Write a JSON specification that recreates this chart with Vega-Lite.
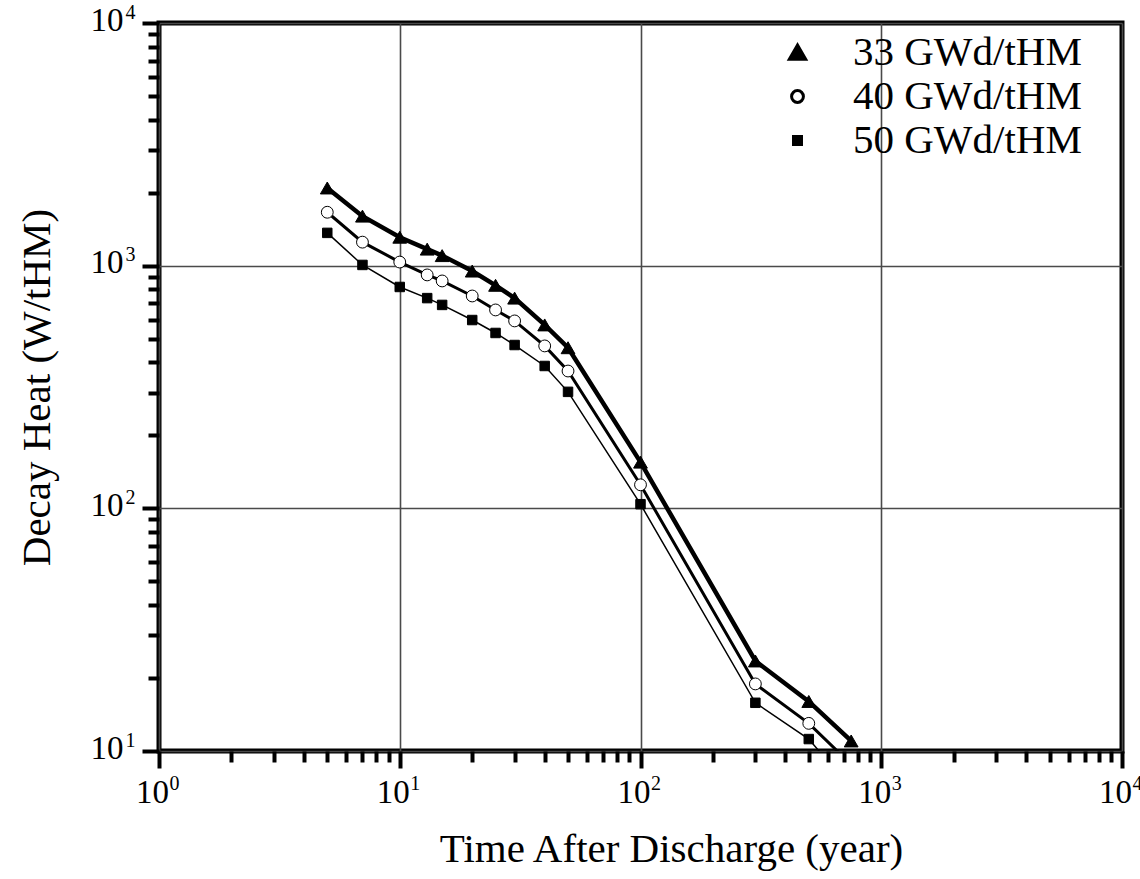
{
  "$schema": "https://vega.github.io/schema/vega-lite/v6.json",
  "autosize": {"type": "none"},
  "padding": {"left": 159, "top": 23, "right": 18, "bottom": 128},
  "width": 963,
  "height": 728,
  "background": "white",
  "config": {
    "view": {"stroke": "black", "strokeWidth": 5},
    "font": "Liberation Serif, Times New Roman, Tinos, DejaVu Serif, serif",
    "legend": {
      "orient": "none", "legendX": 618, "legendY": 9,
      "title": null,
      "labelFont": "Liberation Serif, Times New Roman, Tinos, DejaVu Serif, serif", "labelFontSize": 41, "labelColor": "black",
      "labelLimit": 500, "labelOffset": 35, "rowPadding": 2, "padding": 0
    }
  },
  "data": {
    "values": [
      {"series": "33 GWd/tHM", "t": 5, "heat": 2090},
      {"series": "33 GWd/tHM", "t": 7, "heat": 1600},
      {"series": "33 GWd/tHM", "t": 10, "heat": 1310},
      {"series": "33 GWd/tHM", "t": 13, "heat": 1170},
      {"series": "33 GWd/tHM", "t": 15, "heat": 1100},
      {"series": "33 GWd/tHM", "t": 20, "heat": 950},
      {"series": "33 GWd/tHM", "t": 25, "heat": 830},
      {"series": "33 GWd/tHM", "t": 30, "heat": 735},
      {"series": "33 GWd/tHM", "t": 40, "heat": 570},
      {"series": "33 GWd/tHM", "t": 50, "heat": 459},
      {"series": "33 GWd/tHM", "t": 100, "heat": 155},
      {"series": "33 GWd/tHM", "t": 300, "heat": 23.5},
      {"series": "33 GWd/tHM", "t": 500, "heat": 16},
      {"series": "33 GWd/tHM", "t": 750, "heat": 11.0},
      {"series": "40 GWd/tHM", "t": 5, "heat": 1660},
      {"series": "40 GWd/tHM", "t": 7, "heat": 1250},
      {"series": "40 GWd/tHM", "t": 10, "heat": 1035},
      {"series": "40 GWd/tHM", "t": 13, "heat": 916},
      {"series": "40 GWd/tHM", "t": 15, "heat": 865},
      {"series": "40 GWd/tHM", "t": 20, "heat": 750},
      {"series": "40 GWd/tHM", "t": 25, "heat": 657},
      {"series": "40 GWd/tHM", "t": 30, "heat": 592},
      {"series": "40 GWd/tHM", "t": 40, "heat": 467},
      {"series": "40 GWd/tHM", "t": 50, "heat": 368},
      {"series": "40 GWd/tHM", "t": 100, "heat": 125},
      {"series": "40 GWd/tHM", "t": 300, "heat": 18.9},
      {"series": "40 GWd/tHM", "t": 500, "heat": 13.0},
      {"series": "40 GWd/tHM", "t": 750, "heat": 8.8},
      {"series": "50 GWd/tHM", "t": 5, "heat": 1365},
      {"series": "50 GWd/tHM", "t": 7, "heat": 1007},
      {"series": "50 GWd/tHM", "t": 10, "heat": 817},
      {"series": "50 GWd/tHM", "t": 13, "heat": 735},
      {"series": "50 GWd/tHM", "t": 15, "heat": 689},
      {"series": "50 GWd/tHM", "t": 20, "heat": 597},
      {"series": "50 GWd/tHM", "t": 25, "heat": 528},
      {"series": "50 GWd/tHM", "t": 30, "heat": 471},
      {"series": "50 GWd/tHM", "t": 40, "heat": 386},
      {"series": "50 GWd/tHM", "t": 50, "heat": 302},
      {"series": "50 GWd/tHM", "t": 100, "heat": 104},
      {"series": "50 GWd/tHM", "t": 300, "heat": 15.8},
      {"series": "50 GWd/tHM", "t": 500, "heat": 11.2},
      {"series": "50 GWd/tHM", "t": 750, "heat": 7.0}
    ]
  },
  "resolve": {"axis": {"x": "independent", "y": "independent"}},
  "layer": [
    {
      "mark": {"type": "line", "color": "black", "clip": true},
      "encoding": {
        "x": {
          "field": "t", "type": "quantitative",
          "scale": {"type": "log", "domain": [1, 10000], "nice": false},
          "axis": {
            "orient": "bottom",
            "values": [1,2,3,4,5,6,7,8,9,10,20,30,40,50,60,70,80,90,100,200,300,400,500,600,700,800,900,1000,2000,3000,4000,5000,6000,7000,8000,9000,10000],
            "labelExpr": "indexof([1,10,100,1000,10000], datum.value) >= 0 ? '10' : ''",
            "tickSize": {"condition": {"test": "indexof([1,10,100,1000,10000], datum.value) >= 0", "value": 17}, "value": 11},
            "tickWidth": 4, "tickColor": "black",
            "grid": true, "gridColor": "#4a4a4a", "gridWidth": 1.6,
            "gridOpacity": {"condition": {"test": "indexof([1,10,100,1000,10000], datum.value) >= 0", "value": 1}, "value": 0},
            "domain": false,
            "labelFont": "Liberation Serif, Times New Roman, Tinos, DejaVu Serif, serif", "labelFontSize": 33, "labelColor": "black",
            "labelPadding": 8, "labelFlush": false, "labelOverlap": false, "labelOffset": -7,
            "title": "Time After Discharge (year)",
            "titleFont": "Liberation Serif, Times New Roman, Tinos, DejaVu Serif, serif", "titleFontSize": 41, "titleFontWeight": "normal",
            "titleColor": "black", "titlePadding": 20, "titleX": 512
          }
        },
        "y": {
          "field": "heat", "type": "quantitative",
          "scale": {"type": "log", "domain": [10, 10000], "nice": false},
          "axis": {
            "orient": "left",
            "values": [10,20,30,40,50,60,70,80,90,100,200,300,400,500,600,700,800,900,1000,2000,3000,4000,5000,6000,7000,8000,9000,10000],
            "labelExpr": "indexof([10,100,1000,10000], datum.value) >= 0 ? '10' : ''",
            "tickSize": {"condition": {"test": "indexof([10,100,1000,10000], datum.value) >= 0", "value": 17}, "value": 11},
            "tickWidth": 4, "tickColor": "black",
            "grid": true, "gridColor": "#4a4a4a", "gridWidth": 1.6,
            "gridOpacity": {"condition": {"test": "indexof([10,100,1000,10000], datum.value) >= 0", "value": 1}, "value": 0},
            "domain": false,
            "labelFont": "Liberation Serif, Times New Roman, Tinos, DejaVu Serif, serif", "labelFontSize": 33, "labelColor": "black",
            "labelPadding": 19, "labelOverlap": false, "labelFlush": false, "labelOffset": -3,
            "title": "Decay Heat (W/tHM)",
            "titleFont": "Liberation Serif, Times New Roman, Tinos, DejaVu Serif, serif", "titleFontSize": 41, "titleFontWeight": "normal",
            "titleColor": "black", "titlePadding": 32
          }
        },
        "detail": {"field": "series"},
        "strokeWidth": {
          "field": "series", "type": "nominal",
          "scale": {"domain": ["33 GWd/tHM", "40 GWd/tHM", "50 GWd/tHM"], "range": [4.5, 1.5, 1.5]},
          "legend": {
            "encode": {
              "symbols": {
                "stroke": {"value": "black"},
                "opacity": {"value": 1}
              }
            }
          }
        }
      }
    },
    {
      "mark": {"type": "point", "filled": true, "stroke": "black", "strokeWidth": 1, "opacity": 1, "clip": true},
      "encoding": {
        "x": {
          "field": "t", "type": "quantitative",
          "axis": {
            "orient": "bottom",
            "values": [1, 10, 100, 1000, 10000],
            "labelExpr": "'' + round(log(datum.value) / LN10)",
            "ticks": false, "tickSize": 0, "grid": false, "domain": false,
            "labelFont": "Liberation Serif, Times New Roman, Tinos, DejaVu Serif, serif", "labelFontSize": 20, "labelColor": "black",
            "labelAlign": "left", "labelBaseline": "top", "labelOffset": 10, "labelPadding": 22,
            "labelFlush": false, "labelOverlap": false,
            "title": null
          }
        },
        "y": {
          "field": "heat", "type": "quantitative",
          "axis": {
            "orient": "left",
            "values": [10, 100, 1000, 10000],
            "labelExpr": "'' + round(log(datum.value) / LN10)",
            "ticks": false, "tickSize": 0, "grid": false, "domain": false,
            "labelFont": "Liberation Serif, Times New Roman, Tinos, DejaVu Serif, serif", "labelFontSize": 20, "labelColor": "black",
            "labelAlign": "left", "labelBaseline": "middle", "labelOffset": -11, "labelPadding": 34,
            "labelFlush": false, "labelOverlap": false,
            "title": null
          }
        },
        "shape": {
          "field": "series", "type": "nominal",
          "scale": {"domain": ["33 GWd/tHM", "40 GWd/tHM", "50 GWd/tHM"], "range": ["triangle-up", "circle", "square"]},
          "legend": {
            "encode": {
              "symbols": {
                "stroke": {"value": "black"},
                "opacity": {"value": 1}
              }
            }
          }
        },
        "fill": {
          "field": "series", "type": "nominal",
          "scale": {"domain": ["33 GWd/tHM", "40 GWd/tHM", "50 GWd/tHM"], "range": ["black", "white", "black"]},
          "legend": {
            "encode": {
              "symbols": {
                "stroke": {"value": "black"},
                "opacity": {"value": 1}
              }
            }
          }
        },
        "size": {
          "field": "series", "type": "nominal",
          "scale": {"domain": ["33 GWd/tHM", "40 GWd/tHM", "50 GWd/tHM"], "range": [190, 90, 110]},
          "legend": {
            "encode": {
              "symbols": {
                "stroke": {"value": "black"},
                "opacity": {"value": 1}
              }
            }
          }
        }
      }
    }
  ]
}
